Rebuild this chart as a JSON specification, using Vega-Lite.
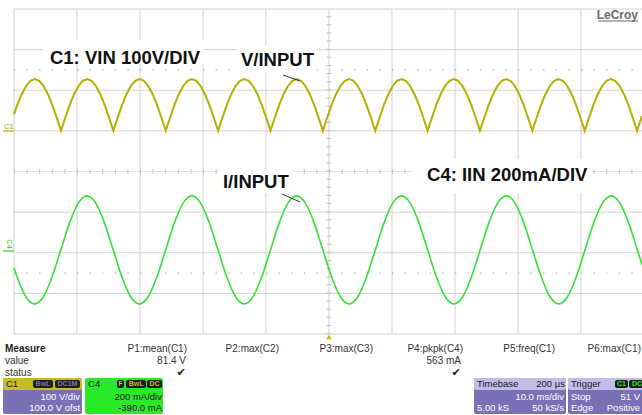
{
"$schema":"https://vega.github.io/schema/vega-lite/v6.json",
"width":642,"height":415,"autosize":{"type":"none"},"padding":0,"background":"white",
"config":{"view":{"stroke":null},"text":{"font":"Liberation Sans"}},
"datasets":{
"vg":[{"x":0,"y":-4,"y2":4},{"x":1,"y":-4,"y2":4},{"x":2,"y":-4,"y2":4},{"x":3,"y":-4,"y2":4},{"x":4,"y":-4,"y2":4},{"x":5,"y":-4,"y2":4},{"x":6,"y":-4,"y2":4},{"x":7,"y":-4,"y2":4},{"x":8,"y":-4,"y2":4},{"x":9,"y":-4,"y2":4}],
"hg":[{"y":-4,"x":0,"x2":9.9683},{"y":-3,"x":0,"x2":9.9683},{"y":-2,"x":0,"x2":9.9683},{"y":-1,"x":0,"x2":9.9683},{"y":1,"x":0,"x2":9.9683},{"y":2,"x":0,"x2":9.9683},{"y":3,"x":0,"x2":9.9683},{"y":4,"x":0,"x2":9.9683}],
"hc":[{"y":0,"x":0,"x2":9.9683}],
"vc":[{"x":5,"y":-4,"y2":4}],
"dt":[{"y":2.5,"x":0,"x2":9.9683},{"y":-2.5,"x":0,"x2":9.9683}],
"wb":[{"x":0.460,"x2":3.016,"y":3.237,"y2":2.646},{"x":3.540,"x2":4.810,"y":3.089,"y2":2.449},{"x":3.254,"x2":4.413,"y":0.062,"y2":-0.529},{"x":6.317,"x2":9.175,"y":0.308,"y2":-0.529}],
"vw":[{"x":0,"y":1.405},{"x":0.053,"y":1.639},{"x":0.123,"y":1.903},{"x":0.192,"y":2.106},{"x":0.261,"y":2.233},{"x":0.330,"y":2.277},{"x":0.400,"y":2.233},{"x":0.469,"y":2.106},{"x":0.538,"y":1.903},{"x":0.608,"y":1.639},{"x":0.677,"y":1.330},
{"x":0.746,"y":1.0},{"x":0.815,"y":1.330},{"x":0.885,"y":1.639},{"x":0.954,"y":1.903},{"x":1.023,"y":2.106},{"x":1.092,"y":2.233},{"x":1.162,"y":2.277},{"x":1.231,"y":2.233},{"x":1.300,"y":2.106},{"x":1.370,"y":1.903},{"x":1.439,"y":1.639},{"x":1.508,"y":1.330},
{"x":1.577,"y":1.0},{"x":1.647,"y":1.330},{"x":1.716,"y":1.639},{"x":1.785,"y":1.903},{"x":1.854,"y":2.106},{"x":1.924,"y":2.233},{"x":1.993,"y":2.277},{"x":2.062,"y":2.233},{"x":2.132,"y":2.106},{"x":2.201,"y":1.903},{"x":2.270,"y":1.639},{"x":2.339,"y":1.330},
{"x":2.409,"y":1.0},{"x":2.478,"y":1.330},{"x":2.547,"y":1.639},{"x":2.616,"y":1.903},{"x":2.686,"y":2.106},{"x":2.755,"y":2.233},{"x":2.824,"y":2.277},{"x":2.894,"y":2.233},{"x":2.963,"y":2.106},{"x":3.032,"y":1.903},{"x":3.101,"y":1.639},{"x":3.171,"y":1.330},
{"x":3.240,"y":1.0},{"x":3.309,"y":1.330},{"x":3.379,"y":1.639},{"x":3.448,"y":1.903},{"x":3.517,"y":2.106},{"x":3.586,"y":2.233},{"x":3.656,"y":2.277},{"x":3.725,"y":2.233},{"x":3.794,"y":2.106},{"x":3.863,"y":1.903},{"x":3.933,"y":1.639},{"x":4.002,"y":1.330},
{"x":4.071,"y":1.0},{"x":4.141,"y":1.330},{"x":4.210,"y":1.639},{"x":4.279,"y":1.903},{"x":4.348,"y":2.106},{"x":4.418,"y":2.233},{"x":4.487,"y":2.277},{"x":4.556,"y":2.233},{"x":4.625,"y":2.106},{"x":4.695,"y":1.903},{"x":4.764,"y":1.639},{"x":4.833,"y":1.330},
{"x":4.903,"y":1.0},{"x":4.972,"y":1.330},{"x":5.041,"y":1.639},{"x":5.110,"y":1.903},{"x":5.180,"y":2.106},{"x":5.249,"y":2.233},{"x":5.318,"y":2.277},{"x":5.387,"y":2.233},{"x":5.457,"y":2.106},{"x":5.526,"y":1.903},{"x":5.595,"y":1.639},{"x":5.665,"y":1.330},
{"x":5.734,"y":1.0},{"x":5.803,"y":1.330},{"x":5.872,"y":1.639},{"x":5.942,"y":1.903},{"x":6.011,"y":2.106},{"x":6.080,"y":2.233},{"x":6.150,"y":2.277},{"x":6.219,"y":2.233},{"x":6.288,"y":2.106},{"x":6.357,"y":1.903},{"x":6.427,"y":1.639},{"x":6.496,"y":1.330},
{"x":6.565,"y":1.0},{"x":6.634,"y":1.330},{"x":6.704,"y":1.639},{"x":6.773,"y":1.903},{"x":6.842,"y":2.106},{"x":6.912,"y":2.233},{"x":6.981,"y":2.277},{"x":7.050,"y":2.233},{"x":7.119,"y":2.106},{"x":7.189,"y":1.903},{"x":7.258,"y":1.639},{"x":7.327,"y":1.330},
{"x":7.396,"y":1.0},{"x":7.466,"y":1.330},{"x":7.535,"y":1.639},{"x":7.604,"y":1.903},{"x":7.674,"y":2.106},{"x":7.743,"y":2.233},{"x":7.812,"y":2.277},{"x":7.881,"y":2.233},{"x":7.951,"y":2.106},{"x":8.020,"y":1.903},{"x":8.089,"y":1.639},{"x":8.158,"y":1.330},
{"x":8.228,"y":1.0},{"x":8.297,"y":1.330},{"x":8.366,"y":1.639},{"x":8.436,"y":1.903},{"x":8.505,"y":2.106},{"x":8.574,"y":2.233},{"x":8.643,"y":2.277},{"x":8.713,"y":2.233},{"x":8.782,"y":2.106},{"x":8.851,"y":1.903},{"x":8.921,"y":1.639},{"x":8.990,"y":1.330},
{"x":9.059,"y":1.0},{"x":9.128,"y":1.330},{"x":9.198,"y":1.639},{"x":9.267,"y":1.903},{"x":9.336,"y":2.106},{"x":9.405,"y":2.233},{"x":9.475,"y":2.277},{"x":9.544,"y":2.233},{"x":9.613,"y":2.106},{"x":9.683,"y":1.903},{"x":9.752,"y":1.639},{"x":9.821,"y":1.330},
{"x":9.890,"y":1.0},{"x":9.960,"y":1.330},{"x":9.968,"y":1.369}],
"iw":[{"x":0,"y":-2.369},{"x":0.050,"y":-2.595},{"x":0.188,"y":-3.082},{"x":0.327,"y":-3.260},{"x":0.466,"y":-3.082},{"x":0.604,"y":-2.595},{"x":0.743,"y":-1.930},{"x":0.882,"y":-1.265},{"x":1.020,"y":-0.778},
{"x":1.159,"y":-0.600},{"x":1.298,"y":-0.778},{"x":1.436,"y":-1.265},{"x":1.575,"y":-1.930},{"x":1.714,"y":-2.595},{"x":1.852,"y":-3.082},{"x":1.991,"y":-3.260},{"x":2.130,"y":-3.082},{"x":2.268,"y":-2.595},{"x":2.407,"y":-1.930},{"x":2.546,"y":-1.265},{"x":2.684,"y":-0.778},
{"x":2.823,"y":-0.600},{"x":2.962,"y":-0.778},{"x":3.100,"y":-1.265},{"x":3.239,"y":-1.930},{"x":3.378,"y":-2.595},{"x":3.516,"y":-3.082},{"x":3.655,"y":-3.260},{"x":3.794,"y":-3.082},{"x":3.932,"y":-2.595},{"x":4.071,"y":-1.930},{"x":4.210,"y":-1.265},{"x":4.348,"y":-0.778},
{"x":4.487,"y":-0.600},{"x":4.626,"y":-0.778},{"x":4.764,"y":-1.265},{"x":4.903,"y":-1.930},{"x":5.042,"y":-2.595},{"x":5.180,"y":-3.082},{"x":5.319,"y":-3.260},{"x":5.458,"y":-3.082},{"x":5.596,"y":-2.595},{"x":5.735,"y":-1.930},{"x":5.874,"y":-1.265},{"x":6.012,"y":-0.778},
{"x":6.151,"y":-0.600},{"x":6.290,"y":-0.778},{"x":6.428,"y":-1.265},{"x":6.567,"y":-1.930},{"x":6.706,"y":-2.595},{"x":6.844,"y":-3.082},{"x":6.983,"y":-3.260},{"x":7.122,"y":-3.082},{"x":7.260,"y":-2.595},{"x":7.399,"y":-1.930},{"x":7.538,"y":-1.265},{"x":7.676,"y":-0.778},
{"x":7.815,"y":-0.600},{"x":7.954,"y":-0.778},{"x":8.092,"y":-1.265},{"x":8.231,"y":-1.930},{"x":8.370,"y":-2.595},{"x":8.508,"y":-3.082},{"x":8.647,"y":-3.260},{"x":8.786,"y":-3.082},{"x":8.924,"y":-2.595},{"x":9.063,"y":-1.930},{"x":9.202,"y":-1.265},{"x":9.340,"y":-0.778},
{"x":9.479,"y":-0.600},{"x":9.618,"y":-0.778},{"x":9.756,"y":-1.265},{"x":9.895,"y":-1.930},{"x":9.968,"y":-2.292}],
"ld":[{"x":4.270,"y":2.375,"x2":4.540,"y2":2.228},{"x":4.254,"y":-0.554,"x2":4.540,"y2":-0.751}],
"ann":[{"x":0.571,"y":2.658,"t":"C1: VIN 100V/DIV"},{"x":3.603,"y":2.585,"t":"V/INPUT"},{"x":3.317,"y":-0.406,"t":"I/INPUT"},{"x":6.556,"y":-0.222,"t":"C4: IIN 200mA/DIV"}],
"mk":[{"x":9.27,"x2":9.905,"y":3.705,"c":"g"},{"x":-0.175,"x2":0,"y":0.997,"c":"y"},{"x":-0.175,"x2":0,"y":-1.957,"c":"n"}],
"bx":[{"x":-0.1746,"x2":1.0794,"y":-5.0831,"y2":-5.9692,"k":"pu"},{"x":-0.1746,"x2":1.0794,"y":-5.0831,"y2":-5.3785,"k":"yh"},
{"x":1.1270,"x2":2.3651,"y":-5.0831,"y2":-5.9692,"k":"gr"},
{"x":7.3016,"x2":8.7619,"y":-5.0831,"y2":-5.9692,"k":"pu"},{"x":7.3016,"x2":8.7619,"y":-5.0831,"y2":-5.3785,"k":"lh"},
{"x":8.7937,"x2":10.05,"y":-5.0831,"y2":-5.9692,"k":"pu"},{"x":8.7937,"x2":10.05,"y":-5.0831,"y2":-5.3785,"k":"lh"},
{"x":0.3016,"x2":0.6190,"y":-5.1323,"y2":-5.3292,"k":"bd"},{"x":0.6508,"x2":1.0476,"y":-5.1323,"y2":-5.3292,"k":"bd"},
{"x":1.6349,"x2":1.7460,"y":-5.1323,"y2":-5.3292,"k":"bd"},{"x":1.7778,"x2":2.0952,"y":-5.1323,"y2":-5.3292,"k":"bd"},{"x":2.1111,"x2":2.3492,"y":-5.1323,"y2":-5.3292,"k":"bd"},
{"x":9.5397,"x2":9.7460,"y":-5.1323,"y2":-5.3292,"k":"bd"},{"x":9.7619,"x2":10.05,"y":-5.1323,"y2":-5.3292,"k":"bd"}],
"bt":[{"x":0.460,"y":-5.231,"t":"BwL","c":"y"},{"x":0.849,"y":-5.231,"t":"DC1M","c":"y"},{"x":1.690,"y":-5.231,"t":"F","c":"g"},{"x":1.937,"y":-5.231,"t":"BwL","c":"g"},{"x":2.230,"y":-5.231,"t":"DC","c":"g"},{"x":9.643,"y":-5.231,"t":"C1","c":"w"},{"x":9.889,"y":-5.231,"t":"DC","c":"w"}],
"tx":[{"x":-0.143,"y":-4.665,"t":"value","g":"L"},{"x":-0.143,"y":-4.960,"t":"status","g":"L"},
{"x":-0.143,"y":-4.369,"t":"Measure","g":"B"},
{"x":2.746,"y":-4.369,"t":"P1:mean(C1)","g":"R"},{"x":4.206,"y":-4.369,"t":"P2:max(C2)","g":"R"},{"x":5.698,"y":-4.369,"t":"P3:max(C3)","g":"R"},{"x":7.127,"y":-4.369,"t":"P4:pkpk(C4)","g":"R"},{"x":8.587,"y":-4.369,"t":"P5:freq(C1)","g":"R"},{"x":9.952,"y":-4.369,"t":"P6:max(C1)","g":"R"},
{"x":2.730,"y":-4.665,"t":"81.4 V","g":"R"},{"x":7.095,"y":-4.665,"t":"563 mA","g":"R"},
{"x":2.651,"y":-4.960,"t":"✔","g":"K"},{"x":7.016,"y":-4.960,"t":"✔","g":"K"},
{"x":-0.127,"y":-5.231,"t":"C1","g":"H"},{"x":1.175,"y":-5.231,"t":"C4","g":"H"},{"x":7.349,"y":-5.231,"t":"Timebase","g":"H"},{"x":8.841,"y":-5.231,"t":"Trigger","g":"H"},
{"x":8.746,"y":-5.231,"t":"200 µs","g":"HR"},
{"x":1.048,"y":-5.551,"t":"100 V/div","g":"W"},{"x":1.048,"y":-5.822,"t":"100.0 V ofst","g":"W"},{"x":8.730,"y":-5.551,"t":"10.0 ms/div","g":"W"},{"x":8.730,"y":-5.822,"t":"50 kS/s","g":"W"},{"x":9.937,"y":-5.551,"t":"51 V","g":"W"},{"x":9.937,"y":-5.822,"t":"Positive","g":"W"},
{"x":2.349,"y":-5.551,"t":"200 mA/div","g":"D"},{"x":2.349,"y":-5.822,"t":"-390.0 mA","g":"D"},
{"x":7.349,"y":-5.822,"t":"5.00 kS","g":"WL"},{"x":8.841,"y":-5.551,"t":"Stop","g":"WL"},{"x":8.841,"y":-5.822,"t":"Edge","g":"WL"}]
},
"encoding":{
"x":{"field":"x","type":"quantitative","scale":{"domain":[-0.2222,9.9683],"nice":false,"zero":false},"axis":null},
"y":{"field":"y","type":"quantitative","scale":{"domain":[-5.9938,4.2215],"nice":false,"zero":false},"axis":null}
},
"layer":[
{"data":{"name":"vg"},"mark":{"type":"rule","color":"#d2d2d2","strokeWidth":1},"encoding":{"y2":{"field":"y2"}}},
{"data":{"name":"hg"},"mark":{"type":"rule","color":"#d2d2d2","strokeWidth":1},"encoding":{"x2":{"field":"x2"}}},
{"data":{"name":"hc"},"mark":{"type":"rule","color":"#e4e4e4","strokeWidth":1},"encoding":{"x2":{"field":"x2"}}},
{"data":{"name":"hc"},"mark":{"type":"rule","color":"#c4c4c4","strokeWidth":5,"strokeDash":[1,11.6]},"encoding":{"x2":{"field":"x2"}}},
{"data":{"name":"vc"},"mark":{"type":"rule","color":"#c4c4c4","strokeWidth":5,"strokeDash":[1,7.125]},"encoding":{"y2":{"field":"y2"}}},
{"data":{"name":"dt"},"mark":{"type":"rule","color":"#b0b0b0","strokeWidth":1.3,"strokeDash":[1.3,11.3]},"encoding":{"x2":{"field":"x2"}}},
{"data":{"name":"wb"},"mark":{"type":"rect","fill":"white"},"encoding":{"x2":{"field":"x2"},"y2":{"field":"y2"}}},
{"data":{"name":"vw"},"mark":{"type":"line","color":"#b4b000","strokeWidth":2}},
{"data":{"name":"iw"},"mark":{"type":"line","color":"#36e036","strokeWidth":1.6,"interpolate":"monotone"}},
{"data":{"name":"ld"},"mark":{"type":"rule","color":"#333333","strokeWidth":1},"encoding":{"x2":{"field":"x2"},"y2":{"field":"y2"}}},
{"data":{"name":"ann"},"mark":{"type":"text","fontWeight":"bold","fontSize":18.5,"align":"left","baseline":"alphabetic","color":"#111111"},"encoding":{"text":{"field":"t"}}},
{"data":{"values":[{"x":9.905,"y":3.754,"t":"LeCroy"}]},"mark":{"type":"text","fontWeight":"bold","fontSize":12,"align":"right","baseline":"alphabetic","color":"#6a6a6a"},"encoding":{"text":{"field":"t"}}},
{"data":{"name":"mk"},"mark":{"type":"rule","strokeWidth":1.2},"encoding":{"x2":{"field":"x2"},"color":{"field":"c","type":"nominal","legend":null,"scale":{"domain":["g","y","n"],"range":["#6a6a6a","#a8a400","#2ed02e"]}}}},
{"data":{"values":[{"x":-0.159,"y":1.058,"t":"C1"}]},"mark":{"type":"text","fontSize":7.5,"align":"left","baseline":"alphabetic","fill":"#a8a400"},"encoding":{"text":{"field":"t"}}},
{"data":{"values":[{"x":-0.079,"y":-1.785,"t":"C4"}]},"mark":{"type":"text","fontSize":7.5,"angle":90,"align":"center","baseline":"middle","fill":"#2ed02e"},"encoding":{"text":{"field":"t"}}},
{"data":{"values":[{"x":5,"y":-4.074}]},"mark":{"type":"point","shape":"triangle-up","filled":true,"size":32,"fill":"#c8c000","opacity":1}},
{"data":{"name":"bx"},"mark":{"type":"rect","cornerRadius":2},"encoding":{"x2":{"field":"x2"},"y2":{"field":"y2"},"fill":{"field":"k","type":"nominal","legend":null,"scale":{"domain":["pu","yh","gr","lh","bd"],"range":["#7a70b6","#c4bf1c","#2ae82a","#c2bce6","#1e1e1e"]}}}},
{"data":{"name":"bt"},"mark":{"type":"text","fontSize":7,"fontWeight":"bold","align":"center","baseline":"middle"},"encoding":{"text":{"field":"t"},"fill":{"field":"c","type":"nominal","legend":null,"scale":{"domain":["y","g","w"],"range":["#e2da00","#3cff3c","#ffffff"]}}}},
{"data":{"name":"tx"},"transform":[{"filter":"datum.g=='L'"}],"mark":{"type":"text","fontSize":10,"align":"left","baseline":"middle","fill":"#333333"},"encoding":{"text":{"field":"t"}}},
{"data":{"name":"tx"},"transform":[{"filter":"datum.g=='B'"}],"mark":{"type":"text","fontSize":10,"fontWeight":"bold","align":"left","baseline":"middle","fill":"#222222"},"encoding":{"text":{"field":"t"}}},
{"data":{"name":"tx"},"transform":[{"filter":"datum.g=='R'"}],"mark":{"type":"text","fontSize":10,"align":"right","baseline":"middle","fill":"#333333"},"encoding":{"text":{"field":"t"}}},
{"data":{"name":"tx"},"transform":[{"filter":"datum.g=='K'"}],"mark":{"type":"text","font":"DejaVu Sans","fontSize":11,"align":"center","baseline":"middle","fill":"#222222"},"encoding":{"text":{"field":"t"}}},
{"data":{"name":"tx"},"transform":[{"filter":"datum.g=='H'"}],"mark":{"type":"text","fontSize":9.5,"align":"left","baseline":"middle","fill":"#1a1a1a"},"encoding":{"text":{"field":"t"}}},
{"data":{"name":"tx"},"transform":[{"filter":"datum.g=='HR'"}],"mark":{"type":"text","fontSize":9.5,"align":"right","baseline":"middle","fill":"#1a1a1a"},"encoding":{"text":{"field":"t"}}},
{"data":{"name":"tx"},"transform":[{"filter":"datum.g=='W'"}],"mark":{"type":"text","fontSize":9.5,"align":"right","baseline":"middle","fill":"#ffffff"},"encoding":{"text":{"field":"t"}}},
{"data":{"name":"tx"},"transform":[{"filter":"datum.g=='D'"}],"mark":{"type":"text","fontSize":9.5,"align":"right","baseline":"middle","fill":"#1a1a1a"},"encoding":{"text":{"field":"t"}}},
{"data":{"name":"tx"},"transform":[{"filter":"datum.g=='WL'"}],"mark":{"type":"text","fontSize":9.5,"align":"left","baseline":"middle","fill":"#ffffff"},"encoding":{"text":{"field":"t"}}}
]
}
